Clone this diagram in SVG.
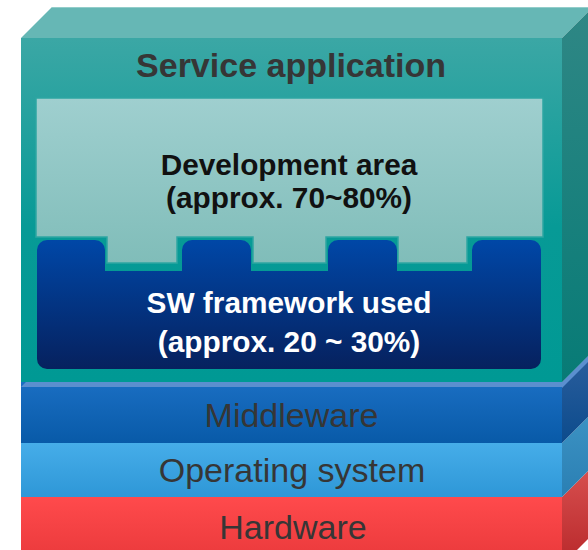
<svg xmlns="http://www.w3.org/2000/svg" width="588" height="550" viewBox="0 0 588 550">
  <defs>
    <linearGradient id="gFront" x1="0" y1="0" x2="0" y2="1">
      <stop offset="0" stop-color="#3ba7a5"/>
      <stop offset="0.55" stop-color="#079a96"/>
      <stop offset="1" stop-color="#009994"/>
    </linearGradient>
    <linearGradient id="gRight" x1="0" y1="0" x2="0" y2="1">
      <stop offset="0" stop-color="#2f8785"/>
      <stop offset="1" stop-color="#077b76"/>
    </linearGradient>
    <linearGradient id="gDev" x1="0" y1="0" x2="0" y2="1">
      <stop offset="0" stop-color="#9fcfcf"/>
      <stop offset="1" stop-color="#80bdb9"/>
    </linearGradient>
    <linearGradient id="gSW" x1="0" y1="0" x2="0" y2="1">
      <stop offset="0" stop-color="#0047a7"/>
      <stop offset="1" stop-color="#06215e"/>
    </linearGradient>
    <linearGradient id="gMW" x1="0" y1="0" x2="0" y2="1">
      <stop offset="0" stop-color="#1a6ec2"/>
      <stop offset="1" stop-color="#085aa8"/>
    </linearGradient>
    <linearGradient id="gMWr" x1="0" y1="0" x2="0" y2="1">
      <stop offset="0" stop-color="#2c5f9e"/>
      <stop offset="1" stop-color="#0c4b8c"/>
    </linearGradient>
    <linearGradient id="gOS" x1="0" y1="0" x2="0" y2="1">
      <stop offset="0" stop-color="#46ade9"/>
      <stop offset="1" stop-color="#2e97d7"/>
    </linearGradient>
    <linearGradient id="gOSr" x1="0" y1="0" x2="0" y2="1">
      <stop offset="0" stop-color="#3d93c4"/>
      <stop offset="1" stop-color="#2a7fb3"/>
    </linearGradient>
    <linearGradient id="gHW" x1="0" y1="0" x2="0" y2="1">
      <stop offset="0" stop-color="#ff4a4c"/>
      <stop offset="1" stop-color="#e8383a"/>
    </linearGradient>
    <linearGradient id="gHWr" x1="0" y1="0" x2="0" y2="1">
      <stop offset="0" stop-color="#d85050"/>
      <stop offset="1" stop-color="#b8282a"/>
    </linearGradient>
  </defs>
  <style>
    .big { font-family: "Liberation Sans", Arial, sans-serif; font-size: 34px; fill: #363636; text-anchor: middle; }
    .bold { font-weight: bold; }
    .mid { font-family: "Liberation Sans", Arial, sans-serif; font-size: 29.8px; font-weight: bold; text-anchor: middle; }
  </style>

  <g id="hardware">
    <rect x="21" y="497" width="541" height="68" fill="url(#gHW)"/>
    <polygon points="562,497 593,466 593,534 562,565" fill="url(#gHWr)"/>
    <text class="big" x="293" y="539">Hardware</text>
  </g>

  <g id="operating-system">
    <rect x="21" y="443" width="541" height="54" fill="url(#gOS)"/>
    <polygon points="562,443 593,412 593,466 562,497" fill="url(#gOSr)"/>
    <text class="big" x="292" y="482">Operating system</text>
  </g>

  <g id="middleware">
    <rect x="21" y="382" width="541" height="61" fill="url(#gMW)"/>
    <polygon points="562,382 593,351 593,412 562,443" fill="url(#gMWr)"/>
    <polygon points="21,387 26,382 562,382 562,387" fill="#5b8fcf"/>
    <polygon points="562,382 593,351 593,357 562,388" fill="#5b8fcf"/>
    <text class="big" x="291.5" y="427">Middleware</text>
  </g>

  <g id="service-application">
    <polygon points="21,38 52,7 593,7 562,38" fill="#66b7b5"/>
    <line x1="52" y1="7.5" x2="593" y2="7.5" stroke="#93cdca" stroke-width="1"/>
    <polygon points="562,38 593,7 593,351 562,382" fill="url(#gRight)"/>
    <rect x="21" y="38" width="541" height="344" fill="url(#gFront)"/>
    <text class="big bold" x="291" y="77">Service application</text>
  </g>

  <g id="development-area">
    <path d="M36,98 H543 V237 H467 V263 H398 V237 H326 V263 H253 V237 H177 V263 H107 V237 H36 Z" fill="url(#gDev)" stroke="#2ea6a2" stroke-width="1.5"/>
    <text class="mid" x="289" y="175" fill="#111">Development area</text>
    <text class="mid" x="289" y="208" fill="#111">(approx. 70~80%)</text>
  </g>

  <g id="sw-framework">
    <path d="M37,250 A10,10 0 0 1 47,240 H95 A10,10 0 0 1 105,250 V271 H182 V250 A10,10 0 0 1 192,240 H241 A10,10 0 0 1 251,250 V271 H328 V250 A10,10 0 0 1 338,240 H387 A10,10 0 0 1 397,250 V271 H472 V250 A10,10 0 0 1 482,240 H531 A10,10 0 0 1 541,250 V359 A10,10 0 0 1 531,369 H47 A10,10 0 0 1 37,359 Z" fill="url(#gSW)"/>
    <text class="mid" x="289" y="313" fill="#ffffff">SW framework used</text>
    <text class="mid" x="289" y="352" fill="#ffffff">(approx. 20 ~ 30%)</text>
  </g>

  <g id="connectors"></g>
</svg>
